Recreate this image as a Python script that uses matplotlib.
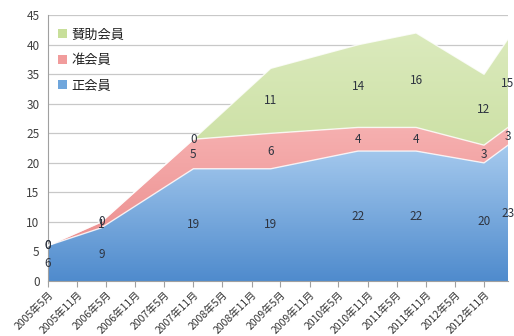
import datetime as dt
import numpy as np
import matplotlib
matplotlib.use("Agg")
import matplotlib.pyplot as plt
import matplotlib.dates as mdates
from matplotlib.patches import Patch
from matplotlib.colors import LinearSegmentedColormap

plt.rcParams['font.family'] = ['Noto Sans CJK JP', 'DejaVu Sans']

# data points (survey dates) and member counts
dates = ["2005-05", "2006-04", "2007-11", "2009-03", "2010-09", "2011-09", "2012-11", "2013-04"]
regular = [6, 9, 19, 19, 22, 22, 20, 23]     # 正会員
associate = [0, 1, 5, 6, 4, 4, 3, 3]         # 准会員
supporting = [0, 0, 0, 11, 14, 16, 12, 15]   # 賛助会員
series_names = ["正会員", "准会員", "賛助会員"]

tick_months = ["2005-05", "2005-11", "2006-05", "2006-11", "2007-05", "2007-11",
               "2008-05", "2008-11", "2009-05", "2009-11", "2010-05", "2010-11",
               "2011-05", "2011-11", "2012-05", "2012-11"]

def to_date(s):
	y, m = s.split("-")
	return dt.date(int(y), int(m), 1)

x = mdates.date2num([to_date(d) for d in dates])
xt = mdates.date2num([to_date(d) for d in tick_months])
tick_labels = ["%d年%d月" % (to_date(d).year, to_date(d).month) for d in tick_months]

fig = plt.figure(figsize=(5.14, 3.36), dpi=100)
ax = fig.add_axes([0.0934, 0.1637, 0.895, 0.791])

layers = [np.array(regular), np.array(associate), np.array(supporting)]
grads = [("#4f8bcd", "#a6caee"), ("#e98585", "#f6b0b0"), ("#bcd68a", "#dbeabd")]
flat = ["#6fa6dc", "#f19c9c", "#c8df9a"]

ax.set_xlim(x[0], x[-1])
ax.set_ylim(0, 45)

base = np.zeros(len(x))
grad = np.linspace(0, 1, 256).reshape(-1, 1)
for vals, (c0, c1) in zip(layers, grads):
	top = base + vals
	poly = ax.fill_between(x, base, top, facecolor="none", edgecolor="none", zorder=2)
	cmap = LinearSegmentedColormap.from_list("g", [c0, c1])
	img = ax.imshow(grad, cmap=cmap, aspect="auto", origin="lower",
	                extent=[x[0], x[-1], 0, top.max()], zorder=2)
	img.set_clip_path(poly.get_paths()[0], transform=ax.transData)
	ax.plot(x, top, color="white", lw=1.0, alpha=0.8, zorder=3)
	for xi, b, v in zip(x, base, vals):
		ax.text(xi, b + v / 2.0, str(v), ha="center", va="center",
		        fontsize=8.5, color="#2e3440", zorder=5)
	base = top

ax.set_xlim(x[0], x[-1])
ax.set_ylim(0, 45)
ax.set_yticks(range(0, 50, 5))
ax.set_xticks(xt)
ax.set_xticklabels(tick_labels, rotation=45, ha="right", rotation_mode="anchor", fontsize=7.5, color="#333333")
ax.tick_params(axis="y", length=0, labelsize=8.5, labelcolor="#404040", pad=6)
ax.tick_params(axis="x", length=4, color="#a0a0a0", direction="out", pad=2)
ax.grid(axis="y", color="#c8c8c8", lw=0.9, zorder=0)
ax.set_axisbelow(True)
for s in ["top", "right"]:
	ax.spines[s].set_visible(False)
ax.spines["left"].set_color("#a0a0a0")
ax.spines["bottom"].set_color("#a0a0a0")

handles = [Patch(facecolor=flat[i], edgecolor="none", label=series_names[i]) for i in [2, 1, 0]]
leg = ax.legend(handles=handles, loc="upper left", bbox_to_anchor=(-0.004, 0.995), frameon=False,
                fontsize=9.5, handlelength=0.7, handleheight=0.7, handletextpad=0.3, labelspacing=0.95)
for t in leg.get_texts():
	t.set_color("#222222")

fig.savefig("out.png", dpi=100)
